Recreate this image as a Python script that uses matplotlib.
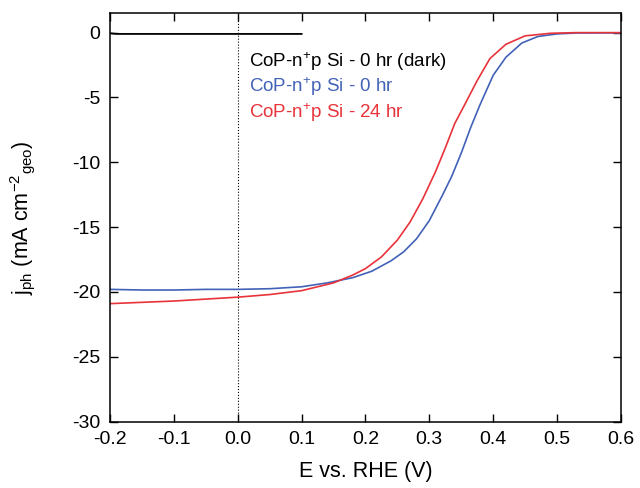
import numpy as np
import matplotlib
matplotlib.use('Agg')
import matplotlib.pyplot as plt

plt.rcParams['font.family'] = ['Liberation Sans', 'DejaVu Sans']
plt.rcParams['mathtext.fontset'] = 'custom'
plt.rcParams['mathtext.rm'] = 'Liberation Sans'
plt.rcParams['mathtext.it'] = 'Liberation Sans'
plt.rcParams['mathtext.default'] = 'regular'
plt.rcParams['axes.unicode_minus'] = False

# 暗态电流
e_dark = [-0.2, -0.19, -0.18, 0.0, 0.1]
j_dark = [-0.05, -0.1, -0.1, -0.1, -0.1]

# 0 hr 光电流
e_0hr = [-0.2, -0.15, -0.1, -0.05, 0.0, 0.05, 0.1, 0.14, 0.18, 0.21, 0.24, 0.26,
         0.28, 0.3, 0.32, 0.335, 0.35, 0.365, 0.38, 0.4, 0.42, 0.445, 0.47, 0.5,
         0.53, 0.6]
j_0hr = [-19.8, -19.85, -19.85, -19.8, -19.8, -19.75, -19.6, -19.3, -18.9, -18.4,
         -17.6, -16.9, -15.9, -14.5, -12.6, -11.1, -9.3, -7.3, -5.5, -3.3, -1.9,
         -0.8, -0.3, -0.1, -0.03, -0.02]

# 24 hr 光电流
e_24hr = [-0.2, -0.15, -0.1, -0.05, 0.0, 0.05, 0.1, 0.15, 0.18, 0.2, 0.225, 0.25,
          0.27, 0.29, 0.31, 0.325, 0.34, 0.355, 0.375, 0.395, 0.42, 0.45, 0.49,
          0.53, 0.6]
j_24hr = [-20.9, -20.8, -20.7, -20.55, -20.4, -20.2, -19.9, -19.3, -18.7, -18.2,
          -17.3, -16.0, -14.6, -12.8, -10.7, -8.9, -7.0, -5.6, -3.7, -2.0, -0.9,
          -0.25, -0.05, 0.0, 0.0]

labels = [r'CoP-n$^{+}$p Si - 0 hr (dark)', r'CoP-n$^{+}$p Si - 0 hr',
          r'CoP-n$^{+}$p Si - 24 hr']
colors = ['black', '#4262b8', '#e8333a']

x_ticks = [-0.2, -0.1, 0.0, 0.1, 0.2, 0.3, 0.4, 0.5, 0.6]
y_ticks = [0, -5, -10, -15, -20, -25, -30]

fig = plt.figure(figsize=(6.4, 4.88), dpi=100)
ax = fig.add_axes([0.172, 0.136, 0.798, 0.837])

ax.axvline(0.0, color='black', linestyle=':', linewidth=0.8)
ax.plot(e_dark, j_dark, color=colors[0], linewidth=1.3)
ax.plot(e_0hr, j_0hr, color=colors[1], linewidth=1.2)
ax.plot(e_24hr, j_24hr, color=colors[2], linewidth=1.2)

ax.set_xlim(-0.2, 0.6)
ax.set_ylim(-30, 1.5)
ax.set_xticks(x_ticks)
ax.set_xticklabels([f'{v:.1f}' for v in x_ticks])
ax.set_yticks(y_ticks)
ax.tick_params(direction='in', top=True, right=True, length=6, width=1,
               labelsize=14, pad=7)
for s in ax.spines.values():
    s.set_linewidth(1.1)

ax.set_xlabel('E vs. RHE (V)', fontsize=15.5, labelpad=9)
ax.set_ylabel(r'j$_{ph}$ (mA cm$^{-2}$$_{geo}$)', fontsize=15.5)
ax.yaxis.set_label_coords(-0.143, 0.5)

# 图例文字
for i, (t, c) in enumerate(zip(labels, colors)):
    ax.text(0.018, -2.2 - 2.0 * i, t, color=c, fontsize=13.5, va='center', ha='left')

fig.savefig('out.png', dpi=100)
